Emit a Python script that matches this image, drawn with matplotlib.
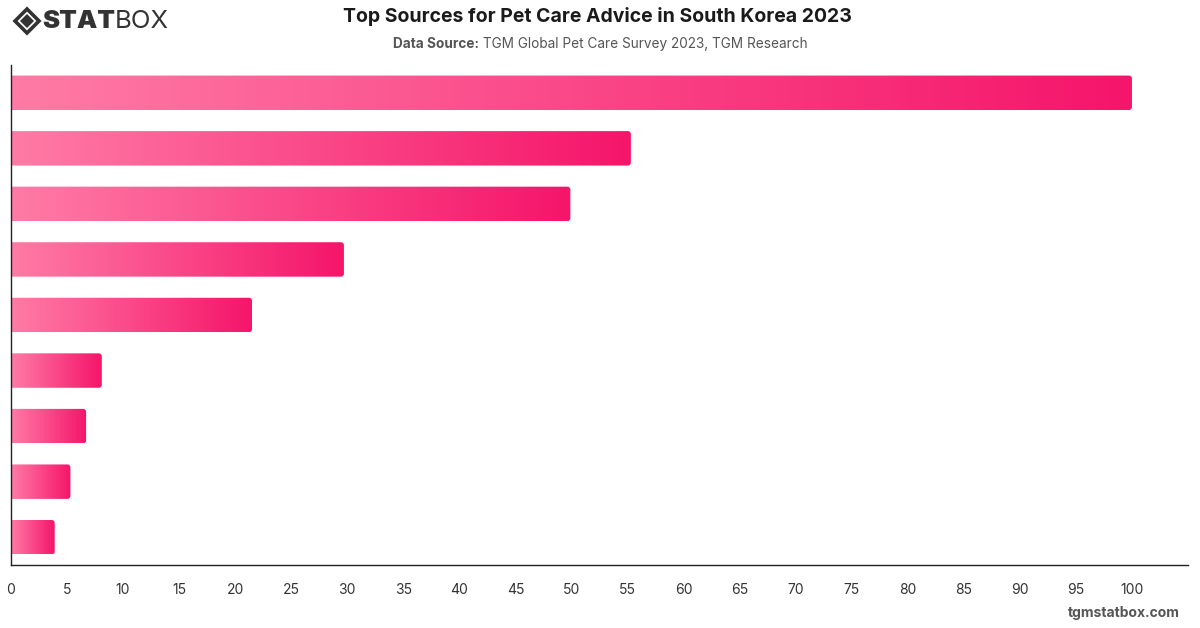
import matplotlib
matplotlib.use('Agg')
import matplotlib.pyplot as plt
import numpy as np
from matplotlib.patches import FancyBboxPatch, Polygon
from matplotlib.colors import LinearSegmentedColormap

# data (top bar first)
values = [100, 55.3, 49.9, 29.7, 21.5, 8.1, 6.7, 5.3, 3.9]
xticks = list(range(0, 101, 5))

title = 'Top Sources for Pet Care Advice in South Korea 2023'
source_bold = 'Data Source:'
source_text = ' TGM Global Pet Care Survey 2023, TGM Research'

plt.rcParams['font.family'] = ['Inter', 'DejaVu Sans']

fig = plt.figure(figsize=(12, 6.28), dpi=100)
ax = fig.add_axes([11 / 1200, 1 - 565 / 628, 1177 / 1200, 500 / 628])

xmax = 105
ax.set_xlim(0, xmax)
ax.set_ylim(len(values) - 0.5, -0.5)

cmap = LinearSegmentedColormap.from_list('pink', ['#FF7BA6', '#F5156A'])
grad = np.linspace(0, 1, 256).reshape(1, -1)

bar_h = 0.62
# px -> data unit conversions for the rounding
ux = xmax / 1177
uy = len(values) / 500
for i, v in enumerate(values):
    y0 = i - bar_h / 2
    patch = FancyBboxPatch((-1, y0), v + 1, bar_h,
                           boxstyle='round,pad=0,rounding_size=%f' % (3 * ux),
                           mutation_aspect=uy / ux,
                           facecolor='none', edgecolor='none')
    ax.add_patch(patch)
    im = ax.imshow(grad, cmap=cmap, aspect='auto',
                   extent=(0, v, i + bar_h / 2, y0), interpolation='bilinear')
    im.set_clip_path(patch)

ax.set_xticks(xticks)
ax.set_xticklabels([str(t) for t in xticks])
ax.set_yticks([])
ax.tick_params(axis='x', length=0, pad=13, labelsize=10, labelcolor='#333333')
for lab in ax.get_xticklabels():
    lab.set_x(lab.get_position()[0])
for s in ['top', 'right']:
    ax.spines[s].set_visible(False)
ax.spines['left'].set_color('#222222')
ax.spines['bottom'].set_color('#222222')
ax.spines['left'].set_linewidth(1.0)
ax.spines['bottom'].set_linewidth(1.0)

# title and subtitle
fig.text(597 / 1200, 1 - 17 / 628, title, ha='center', va='center',
         fontsize=14, fontweight='bold', color='#1a1a1a')
t1 = fig.text(0, 1 - 44 / 628, source_bold, ha='left', va='center',
              fontsize=9.8, fontweight='bold', color='#555555')
t2 = fig.text(0, 1 - 44 / 628, source_text, ha='left', va='center',
              fontsize=9.8, color='#555555')
fig.canvas.draw()
w1 = t1.get_window_extent().width
w2 = t2.get_window_extent().width
start = 600 - (w1 + w2) / 2
t1.set_x(start / 1200)
t2.set_x((start + w1) / 1200)

# logo
cx, cy, r = 27, 21, 12
H = 628
outer = Polygon([(cx - r, H - cy), (cx, H - cy + r), (cx + r, H - cy), (cx, H - cy - r)],
                closed=True, facecolor='none', edgecolor='#333333', linewidth=2.6,
                transform=None)
inner = Polygon([(cx - 7, H - cy), (cx, H - cy + 7), (cx + 7, H - cy), (cx, H - cy - 7)],
                closed=True, facecolor='#333333', edgecolor='none', transform=None)
fig.add_artist(outer)
fig.add_artist(inner)
ls = fig.text(42 / 1200, 1 - 21 / 628, 'STAT', ha='left', va='center',
              fontsize=18.5, fontweight='black', color='#333333')
fig.canvas.draw()
lb = ls.get_window_extent()
fig.text(lb.x1 / 1200, 1 - 21 / 628, 'BOX', ha='left', va='center',
         fontsize=18.5, fontweight='normal', color='#333333')

# footer
fig.text(1180 / 1200, 1 - 613 / 628, 'tgmstatbox.com', ha='right', va='center',
         fontsize=10, fontweight='bold', color='#555555')

fig.savefig('out.png', dpi=100)
